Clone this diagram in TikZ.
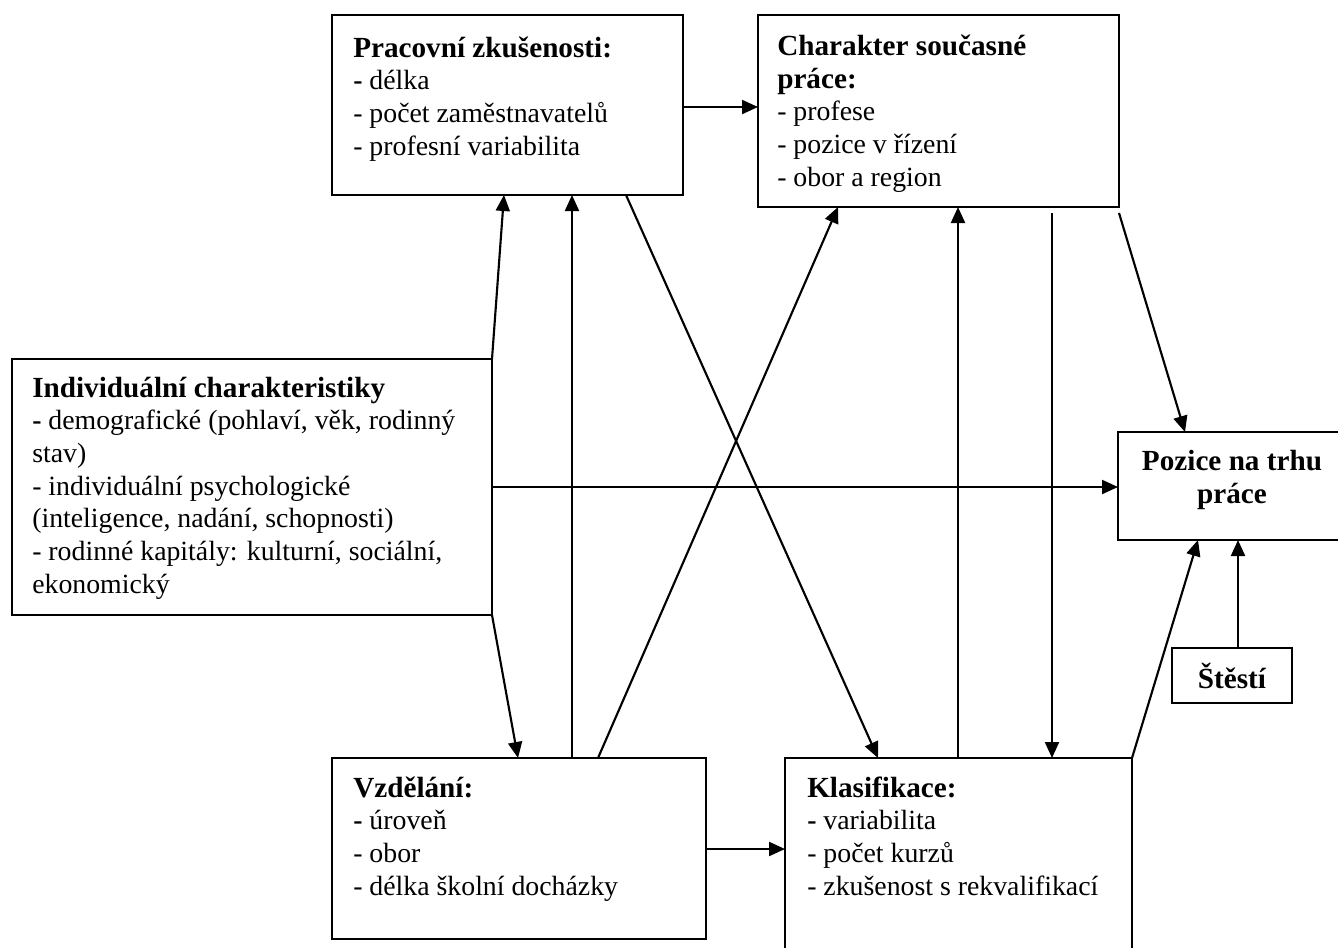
\documentclass[tikz,border=0pt]{standalone}
\usepackage{fontspec}
\setmainfont{Liberation Serif}
\usetikzlibrary{arrows.meta}
\newcommand\boxtitle[1]{{\fontsize{21.9}{24.5}\selectfont\bfseries #1}}
\begin{document}
\begin{tikzpicture}[x=0.75pt,y=-0.75pt,
  box/.style={draw,line width=1.6pt,inner sep=0pt,outer sep=0pt},
  txt/.style={align=left,inner sep=0pt,anchor=base west,font=\fontsize{20.85}{24.5}\selectfont},
  ctxt/.style={align=center,inner sep=0pt,anchor=base,font=\fontsize{21.9}{24.5}\selectfont\bfseries},
  conn/.style={line width=1.6pt,-{Triangle[length=12pt,width=10.5pt]}}]
\clip (0,0) rectangle (1338,947);
% boxes
\node[box,minimum width=263.25pt,minimum height=135pt] (prac) at (507.5,105) {};
\node[box,minimum width=270.75pt,minimum height=144pt] (char) at (938.5,111) {};
\node[box,minimum width=360pt,minimum height=192pt] (indiv) at (252,487) {};
\node[box,minimum width=171pt,minimum height=81pt] (poz) at (1232,486) {};
\node[box,minimum width=90pt,minimum height=41.25pt] (stesti) at (1232,675.5) {};
\node[box,minimum width=280.5pt,minimum height=135.75pt] (vzd) at (519,848.5) {};
\node[box,minimum width=260.25pt,minimum height=144pt] (klas) at (958.5,854) {};
% texts (anchored at the baseline of their last line)
\node[txt] (pracT) at (353,155) {\boxtitle{Pracovní zkušenosti:}\\\textbf{-} délka\\- počet zaměstnavatelů\\- profesní variabilita};
\node[txt] (charT) at (777,186) {\boxtitle{Charakter současné}\\\boxtitle{práce:}\\- profese\\- pozice v řízení\\- obor a region};
\node[txt] (indivT) at (32,593) {\boxtitle{Individuální charakteristiky}\\\textbf{-} demografické (pohlaví, věk, rodinný\\stav)\\- individuální psychologické\\(inteligence, nadání, schopnosti)\\- rodinné kapitály: kulturní, sociální,\\ekonomický};
\node[ctxt] (pozT) at (1232,503) {Pozice na trhu\\práce};
\node[ctxt] (stestiT) at (1232,688) {Štěstí};
\node[txt] (vzdT) at (353,895) {\boxtitle{Vzdělání:}\\\textbf{-} úroveň\\- obor\\- délka školní docházky};
\node[txt] (klasT) at (807,895) {\boxtitle{Klasifikace:}\\\textbf{-} variabilita\\- počet kurzů\\- zkušenost s rekvalifikací};
% free ends
\coordinate (c1) at (1052,213);
\coordinate (c2) at (1119,213);
% connectors
\draw[conn] (prac.east |- 0,107) -- (char.west |- 0,107);
\draw[conn] (indiv.north east) -- (504,0 |- prac.south);
\draw[conn] (572,0 |- vzd.north) -- (572,0 |- prac.south);
\draw[conn] (626,0 |- prac.south) -- (878,0 |- klas.north);
\draw[conn] (598,0 |- vzd.north) -- (838,0 |- char.south);
\draw[conn] (958,0 |- klas.north) -- (958,0 |- char.south);
\draw[conn] (c1) -- (1052,0 |- klas.north);
\draw[conn] (c2) -- (1185,0 |- poz.north);
\draw[conn] (indiv.east) -- (poz.west |- indiv.east);
\draw[conn] (indiv.south east) -- (518,0 |- vzd.north);
\draw[conn] (vzd.east |- 0,849) -- (klas.west |- 0,849);
\draw[conn] (klas.north east) -- (1198,0 |- poz.south);
\draw[conn] (1238,0 |- stesti.north) -- (1238,0 |- poz.south);
\end{tikzpicture}
\end{document}
